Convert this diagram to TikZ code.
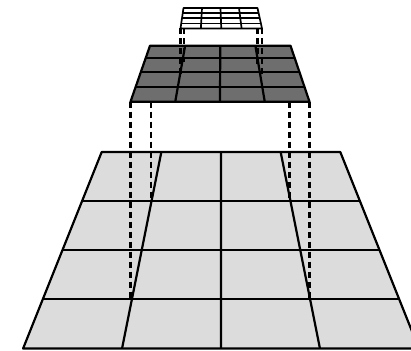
\documentclass[tikz,border=0pt]{standalone}
\usepackage{tikz}
\usetikzlibrary{calc}
\definecolor{floorgray}{HTML}{DCDCDC}
\definecolor{midgray}{HTML}{6E6E6E}

\begin{document}
\begin{tikzpicture}[
      x=1pt, y=-1pt,
      gridline/.style={line width=2.2pt, line join=round},
      thinline/.style={line width=1.7pt, line join=round},
      proj/.style={line width=2.2pt, dash pattern=on 6pt off 4pt},
      bigface/.style={gridline, fill=floorgray},
      midface/.style={gridline, fill=midgray},
      topface/.style={thinline, fill=white}
  ]
    \useasboundingbox (0,0) rectangle (411,350);
    \clip (0,0) rectangle (411,350);

    % bottom plane
    \coordinate (bTL) at (101.7,152);
    \coordinate (bTR) at (340.3,152);
    \coordinate (bBL) at (23.1,348.5);
    \coordinate (bBR) at (418.9,348.5);
    \draw[bigface] (bTL) -- (bTR) -- (bBR) -- (bBL) -- cycle;
    \draw[gridline] ($(bTL)!0.25!(bBL)$) -- ($(bTR)!0.25!(bBR)$);
    \draw[gridline] ($(bTL)!0.5!(bBL)$) -- ($(bTR)!0.5!(bBR)$);
    \draw[gridline] ($(bTL)!0.75!(bBL)$) -- ($(bTR)!0.75!(bBR)$);
    \draw[gridline] ($(bTL)!0.25!(bTR)$) -- ($(bBL)!0.25!(bBR)$);
    \draw[gridline] ($(bTL)!0.5!(bTR)$) -- ($(bBL)!0.5!(bBR)$);
    \draw[gridline] ($(bTL)!0.75!(bTR)$) -- ($(bBL)!0.75!(bBR)$);

    % middle plane
    \coordinate (mTL) at (150,45.7);
    \coordinate (mTR) at (290.5,45.7);
    \coordinate (mBL) at (130.5,101.7);
    \coordinate (mBR) at (309.5,101.7);

    % projection middle -> bottom
    \draw[proj] (mBL) -- (130.5,300);
    \draw[proj] (151,101.7) -- (151,198);
    \draw[proj] (289.5,101.7) -- (289.5,198);
    \draw[proj] (mBR) -- (309.5,300);

    \draw[midface] (mTL) -- (mTR) -- (mBR) -- (mBL) -- cycle;
    \draw[gridline] ($(mTL)!0.225!(mBL)$) -- ($(mTR)!0.225!(mBR)$);
    \draw[gridline] ($(mTL)!0.464!(mBL)$) -- ($(mTR)!0.464!(mBR)$);
    \draw[gridline] ($(mTL)!0.732!(mBL)$) -- ($(mTR)!0.732!(mBR)$);
    \draw[gridline] ($(mTL)!0.25!(mTR)$) -- ($(mBL)!0.25!(mBR)$);
    \draw[gridline] ($(mTL)!0.5!(mTR)$) -- ($(mBL)!0.5!(mBR)$);
    \draw[gridline] ($(mTL)!0.75!(mTR)$) -- ($(mBL)!0.75!(mBR)$);

    % top plane
    \coordinate (sTL) at (183.5,8);
    \coordinate (sTR) at (257.5,8);
    \coordinate (sBL) at (180.5,28.5);
    \coordinate (sBR) at (262,28.5);

    % projection top -> middle
    \draw[proj] (sBL) -- (180.5,78);
    \draw[proj] (184,28.5) -- (184,62);
    \draw[proj] (257.5,28.5) -- (257.5,66);
    \draw[proj] (sBR) -- (262,78);

    \draw[topface] (sTL) -- (sTR) -- (sBR) -- (sBL) -- cycle;
    \draw[thinline] ($(sTL)!0.25!(sBL)$) -- ($(sTR)!0.25!(sBR)$);
    \draw[thinline] ($(sTL)!0.5!(sBL)$) -- ($(sTR)!0.5!(sBR)$);
    \draw[thinline] ($(sTL)!0.75!(sBL)$) -- ($(sTR)!0.75!(sBR)$);
    \draw[thinline] ($(sTL)!0.25!(sTR)$) -- ($(sBL)!0.25!(sBR)$);
    \draw[thinline] ($(sTL)!0.5!(sTR)$) -- ($(sBL)!0.5!(sBR)$);
    \draw[thinline] ($(sTL)!0.75!(sTR)$) -- ($(sBL)!0.75!(sBR)$);
\end{tikzpicture}
\end{document}
